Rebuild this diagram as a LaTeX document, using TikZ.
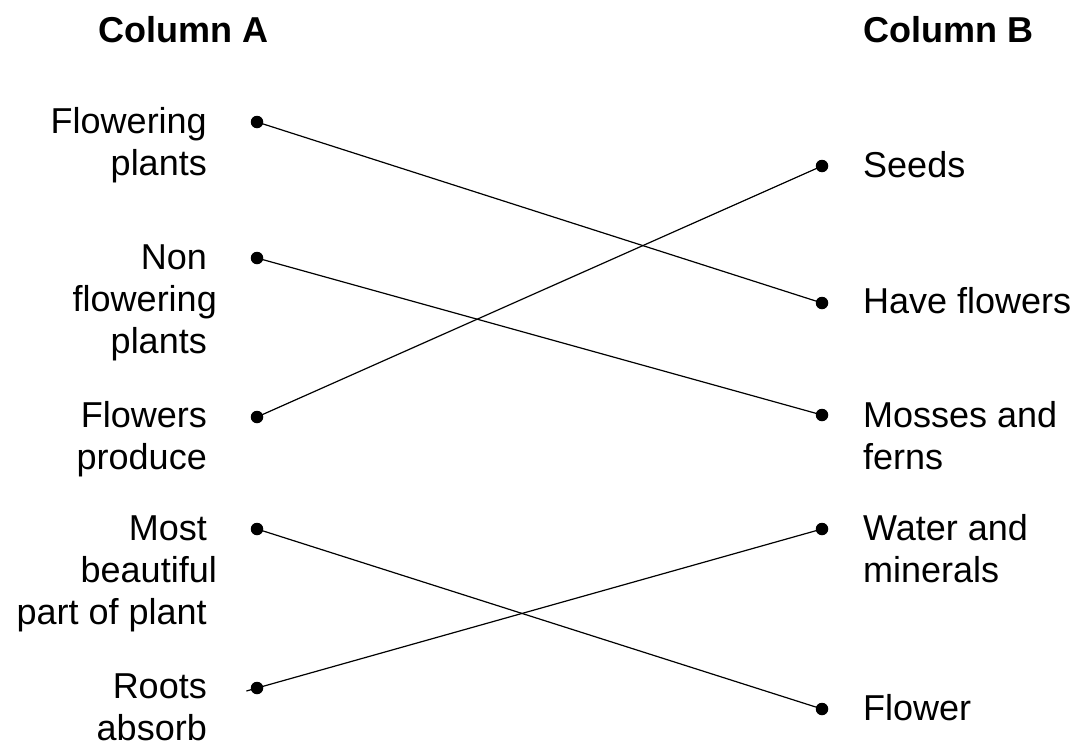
\documentclass[tikz,border=0pt]{standalone}
\usepackage{fontspec}
\setmainfont{Liberation Sans}
\newcommand\trs{\hphantom{\ }}
\tikzset{
  lbl/.style={inner sep=0pt, font=\fontsize{36}{42}\selectfont},
  ttl/.style={inner sep=0pt, anchor=base west, font=\fontsize{36}{42}\selectfont\bfseries},
  lefttxt/.style={lbl, anchor=base east},
  righttxt/.style={lbl, anchor=base west},
  dot/.style={circle, fill=black, inner sep=0pt, minimum size=12.5pt},
  link/.style={line width=1.2pt, black}
}
\begin{document}
\begin{tikzpicture}[x=1pt, y=-1pt]
\useasboundingbox (0,0) rectangle (1081,747);
% titles
\node[ttl] (ta) at (98,42) {Column A};
\node[ttl] (tb) at (863,42) {Column B};
% left labels
\node[lefttxt] (a1) at (217,133) {\begin{tabular}[t]{@{}r@{}}Flowering\trs\\plants\trs\end{tabular}};
\node[lefttxt] (a2) at (217,269) {\begin{tabular}[t]{@{}r@{}}Non\trs\\flowering\\plants\trs\end{tabular}};
\node[lefttxt] (a3) at (217,427) {\begin{tabular}[t]{@{}r@{}}Flowers\trs\\produce\trs\end{tabular}};
\node[lefttxt] (a4) at (217,540) {\begin{tabular}[t]{@{}r@{}}Most\trs\\beautiful\\part of plant\trs\end{tabular}};
\node[lefttxt] (a5) at (217,698) {\begin{tabular}[t]{@{}r@{}}Roots\trs\\absorb\trs\end{tabular}};
% right labels
\node[righttxt] (b1) at (863,177) {\begin{tabular}[t]{@{}l@{}}Seeds\end{tabular}};
\node[righttxt] (b2) at (863,313) {\begin{tabular}[t]{@{}l@{}}Have flowers\end{tabular}};
\node[righttxt] (b3) at (863,427) {\begin{tabular}[t]{@{}l@{}}Mosses and\\ferns\end{tabular}};
\node[righttxt] (b4) at (863,540) {\begin{tabular}[t]{@{}l@{}}Water and\\minerals\end{tabular}};
\node[righttxt] (b5) at (863,720) {\begin{tabular}[t]{@{}l@{}}Flower\end{tabular}};
% dots
\node[dot] (l1) at (257,122) {};
\node[dot] (l2) at (257,258) {};
\node[dot] (l3) at (257,417) {};
\node[dot] (l4) at (257,529) {};
\node[dot] (l5) at (257,688) {};
\node[dot] (r1) at (822,166) {};
\node[dot] (r2) at (822,303) {};
\node[dot] (r3) at (822,415) {};
\node[dot] (r4) at (822,529) {};
\node[dot] (r5) at (822,709) {};
\coordinate (tick) at (246.4,691);
% connectors
\draw[link] (l1.center) -- (r2.center);
\draw[link] (l2.center) -- (r3.center);
\draw[link] (l3.center) -- (r1.center);
\draw[link] (l4.center) -- (r5.center);
\draw[link] (r4.center) -- (tick);
\end{tikzpicture}
\end{document}
